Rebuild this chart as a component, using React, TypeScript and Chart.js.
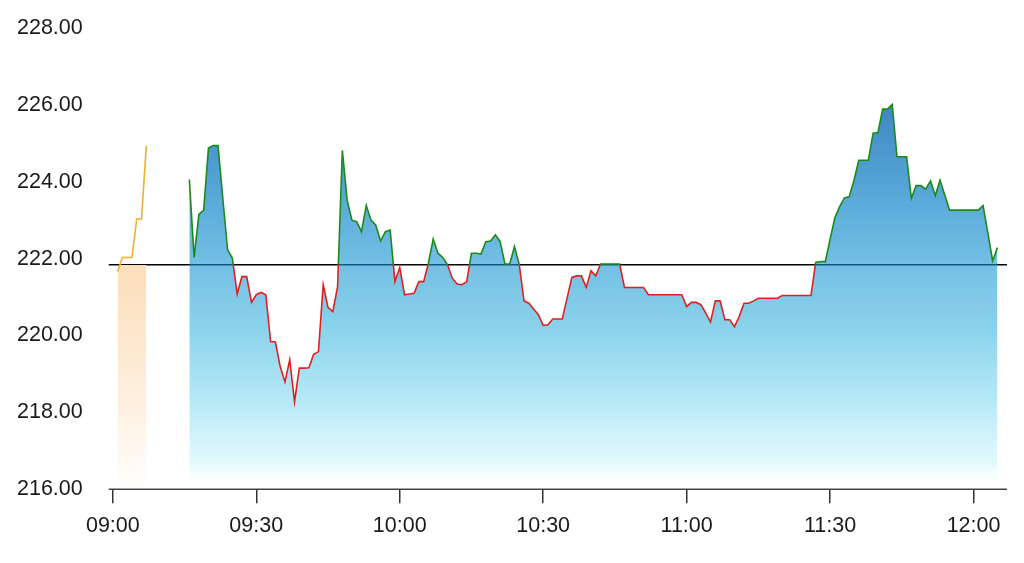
import { useEffect, useRef } from "react"
import { Chart, registerables } from "chart.js"

Chart.register(...registerables)

// previous close, drawn as the black reference line
const prevClose = 221.84

// pre-market prints, one per minute
const preMarketStart = "09:01"
const preMarketPrices = [221.66, 222.03, 222.03, 222.03, 223.03, 223.03, 224.94]

// regular session, one per minute from 09:16
const sessionStart = "09:16"
const sessionPrices = [
  224.06, 222.03, 223.15, 223.26, 224.88, 224.94, 224.94, 223.57, 222.23, 222.01,
  221.08, 221.53, 221.53, 220.86, 221.06, 221.12, 221.06, 219.84, 219.83, 219.19,
  218.79, 219.37, 218.27, 219.15, 219.15, 219.16, 219.51, 219.58, 221.32, 220.73,
  220.62, 221.27, 224.82, 223.52, 223.0, 222.96, 222.7, 223.38, 223.0, 222.87,
  222.46, 222.7, 222.74, 221.4, 221.77, 221.06, 221.08, 221.1, 221.4, 221.4,
  221.88, 222.51, 222.14, 222.03, 221.84, 221.49, 221.34, 221.32, 221.4, 222.14,
  222.14, 222.12, 222.44, 222.46, 222.62, 222.44, 221.86, 221.86, 222.31, 221.84,
  220.9, 220.84, 220.69, 220.54, 220.26, 220.28, 220.43, 220.43, 220.43, 220.97,
  221.51, 221.55, 221.55, 221.25, 221.68, 221.55, 221.86, 221.86, 221.86, 221.86,
  221.86, 221.25, 221.25, 221.25, 221.25, 221.25, 221.06, 221.06, 221.06, 221.06,
  221.06, 221.06, 221.06, 221.06, 220.75, 220.86, 220.86, 220.8, 220.58, 220.35,
  220.9, 220.9, 220.41, 220.41, 220.23, 220.49, 220.84, 220.84, 220.9, 220.97,
  220.97, 220.97, 220.97, 220.97, 221.04, 221.04, 221.04, 221.04, 221.04, 221.04,
  221.04, 221.9, 221.92, 221.92, 222.5, 223.06, 223.35, 223.58, 223.61, 224.04,
  224.56, 224.56, 224.56, 225.26, 225.28, 225.89, 225.89, 226.01, 224.65, 224.65,
  224.65, 223.57, 223.9, 223.9, 223.81, 224.02, 223.64, 224.04, 223.65, 223.26,
  223.26, 223.26, 223.26, 223.26, 223.26, 223.26, 223.38, 222.66, 221.94, 222.29,
]

const xTickLabels = ["09:00", "09:30", "10:00", "10:30", "11:00", "11:30", "12:00"]

// minutes after 09:00
const toMinutes = (t: string) => {
  const [h, m] = t.split(":").map(Number)
  return (h - 9) * 60 + m
}
const toLabel = (mins: number) => {
  const h = 9 + Math.floor(mins / 60)
  const m = Math.round(mins % 60)
  return `${String(h).padStart(2, "0")}:${String(m).padStart(2, "0")}`
}

const toPoints = (start: string, prices: number[]) =>
  prices.map((y, i) => ({ x: toMinutes(start) + i, y }))

// fraction of the chart height where the previous close sits
const refFraction = (chart: any) => {
  const area = chart.chartArea
  const py = chart.scales.y.getPixelForValue(prevClose)
  return Math.min(1, Math.max(0, (py - area.top) / (area.bottom - area.top)))
}

export default function App() {
  const chartRef = useRef<HTMLCanvasElement>(null)
  const chartInstance = useRef<Chart | null>(null)

  useEffect(() => {
    if (!chartRef.current) return
    if (chartInstance.current) chartInstance.current.destroy()

    Chart.defaults.font.family = '"Liberation Sans", Arial, sans-serif'
    Chart.defaults.font.size = 21.5
    Chart.defaults.color = "#1a1a1a"

    const sessionLine = (ctx: any) => {
      const { chart } = ctx
      const area = chart.chartArea
      if (!area) return "#1a8a1a"
      const f = refFraction(chart)
      const g = chart.ctx.createLinearGradient(0, area.top, 0, area.bottom)
      g.addColorStop(0, "#1a8a1a")
      g.addColorStop(f, "#1a8a1a")
      g.addColorStop(f, "#e02020")
      g.addColorStop(1, "#e02020")
      return g
    }

    const sessionFill = (ctx: any) => {
      const { chart } = ctx
      const area = chart.chartArea
      if (!area) return "rgba(120,200,230,0.6)"
      const g = chart.ctx.createLinearGradient(0, area.top, 0, area.bottom)
      g.addColorStop(0, "rgba(50,120,188,1)")
      g.addColorStop(0.17, "rgba(65,135,195,1)")
      g.addColorStop(0.51, "rgba(22,147,210,0.6)")
      g.addColorStop(0.66, "rgba(63,183,223,0.6)")
      g.addColorStop(0.81, "rgba(109,211,237,0.5)")
      g.addColorStop(0.94, "rgba(155,232,245,0.3)")
      g.addColorStop(1, "rgba(255,255,255,0)")
      return g
    }

    // pre-market fill only shows below the previous close
    const preFill = (ctx: any) => {
      const { chart } = ctx
      const area = chart.chartArea
      if (!area) return "rgba(250,210,160,0.6)"
      const f = refFraction(chart)
      const g = chart.ctx.createLinearGradient(0, area.top, 0, area.bottom)
      g.addColorStop(0, "rgba(255,255,255,0)")
      g.addColorStop(f, "rgba(255,255,255,0)")
      g.addColorStop(f, "rgb(252,222,186)")
      g.addColorStop(f + (1 - f) * 0.5, "rgb(253,236,216)")
      g.addColorStop(0.95, "rgb(255,250,245)")
      g.addColorStop(1, "rgb(255,255,255)")
      return g
    }

    // previous-close line under the fills, bottom axis line above them
    const overlayLines = {
      id: "overlayLines",
      beforeDatasetsDraw(chart: any) {
        const { ctx, chartArea, scales } = chart
        const y = scales.y.getPixelForValue(prevClose)
        ctx.save()
        ctx.strokeStyle = "#000"
        ctx.lineWidth = 1.5
        ctx.beginPath()
        ctx.moveTo(chartArea.left, y)
        ctx.lineTo(chartArea.right, y)
        ctx.stroke()
        ctx.restore()
      },
      afterDatasetsDraw(chart: any) {
        const { ctx, chartArea } = chart
        ctx.save()
        ctx.strokeStyle = "#444"
        ctx.lineWidth = 1.5
        ctx.beginPath()
        ctx.moveTo(chartArea.left, chartArea.bottom)
        ctx.lineTo(chartArea.right, chartArea.bottom)
        ctx.stroke()
        ctx.restore()
      },
    }

    chartInstance.current = new Chart(chartRef.current, {
      type: "line",
      data: {
        datasets: [
          {
            data: toPoints(sessionStart, sessionPrices),
            borderColor: sessionLine,
            backgroundColor: sessionFill,
            borderWidth: 1.6,
            fill: "start",
            pointRadius: 0,
            tension: 0,
          },
          {
            data: toPoints(preMarketStart, preMarketPrices),
            borderColor: "#f0b030",
            backgroundColor: preFill,
            borderWidth: 1.6,
            fill: "start",
            pointRadius: 0,
            tension: 0,
          },
        ],
      },
      options: {
        responsive: true,
        maintainAspectRatio: false,
        animation: false,
        layout: { padding: { left: 17, right: 17, top: 28, bottom: 14 } },
        plugins: {
          legend: { display: false },
          tooltip: { enabled: false },
        },
        scales: {
          x: {
            type: "linear",
            min: -0.85,
            max: 187,
            afterBuildTicks: (scale: any) => {
              scale.ticks = xTickLabels.map((t) => ({ value: toMinutes(t) }))
            },
            ticks: {
              padding: 10,
              maxRotation: 0,
              autoSkip: false,
              callback: (v: any) => toLabel(Number(v)),
            },
            grid: {
              display: true,
              drawOnChartArea: false,
              drawTicks: true,
              tickLength: 14,
              color: "#333",
              lineWidth: 1.5,
            },
            border: { display: false },
          },
          y: {
            min: 216,
            max: 228,
            afterFit: (scale: any) => {
              scale.paddingTop = 13
              scale.paddingBottom = 13
            },
            ticks: {
              stepSize: 2,
              padding: 26,
              callback: (v: any) => Number(v).toFixed(2),
            },
            grid: { display: false, drawTicks: false },
            border: { display: false },
          },
        },
      },
      plugins: [overlayLines],
    })

    return () => {
      if (chartInstance.current) chartInstance.current.destroy()
    }
  }, [])

  return (
    <div style={{ position: "absolute", left: -26, top: 0, width: 1050, height: 563, background: "#fff" }}>
      <canvas ref={chartRef} />
    </div>
  )
}
